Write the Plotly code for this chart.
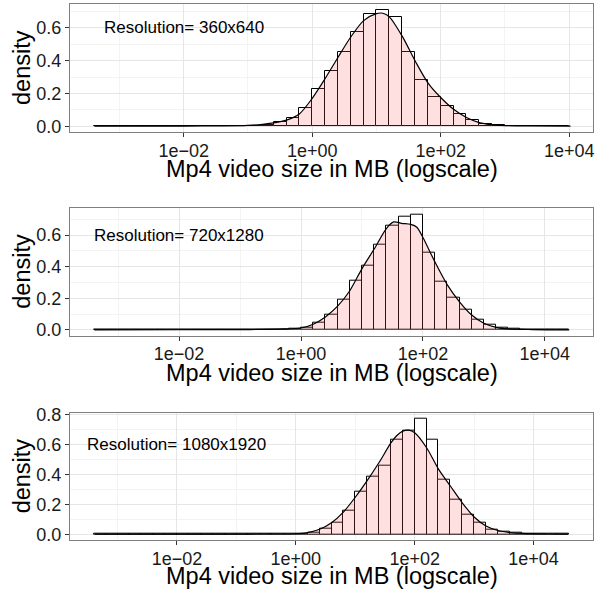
import plotly.graph_objects as go

# ---------------- data (log10 of MB on x) ----------------
bin_width = 0.2
bin_start = -3.4

labels = ["Resolution= 360x640", "Resolution= 720x1280", "Resolution= 1080x1920"]

hist_360 = [0.0005, 0.001, 0.001, 0.001, 0.001, 0.001, 0.001, 0.001, 0.001, 0.001,
            0.002, 0.002, 0.004, 0.010, 0.026, 0.053, 0.113,
            0.230, 0.340, 0.455, 0.574, 0.687, 0.711, 0.667, 0.453, 0.285, 0.178,
            0.123, 0.075, 0.038, 0.016, 0.007, 0.003, 0.002, 0.001, 0.001, 0.0005]
hist_720 = [0.0005, 0.001, 0.001, 0.001, 0.001, 0.001, 0.001, 0.001, 0.001, 0.001,
            0.001, 0.001, 0.001, 0.002, 0.002, 0.004, 0.008,
            0.015, 0.044, 0.096, 0.194, 0.3125, 0.406, 0.540, 0.6625, 0.719, 0.731,
            0.4875, 0.308, 0.204, 0.125, 0.067, 0.030, 0.012, 0.005, 0.002, 0.001,
            0.001, 0.0005]
hist_1080 = [0.0005, 0.001, 0.001, 0.001, 0.001, 0.001, 0.001, 0.001, 0.001, 0.001,
             0.001, 0.001, 0.001, 0.001, 0.001, 0.002, 0.002,
             0.004, 0.009, 0.038, 0.077, 0.159, 0.285, 0.382, 0.457, 0.634, 0.689,
             0.773, 0.634, 0.364, 0.230, 0.130, 0.074, 0.033, 0.015, 0.008, 0.003,
             0.001, 0.001, 0.0005]

dens_x_360 = [-3.39, -2.6, -2.0, -1.4, -1.0, -0.8, -0.6, -0.4, -0.2, 0.0, 0.2, 0.4, 0.6, 0.8,
              1.0, 1.1, 1.2, 1.4, 1.6, 1.8, 2.0, 2.2, 2.4, 2.6, 2.8, 3.0, 3.4, 4.02]
dens_y_360 = [0.0003, 0.0005, 0.001, 0.002, 0.005, 0.010, 0.020, 0.037, 0.075, 0.170, 0.290,
              0.420, 0.545, 0.645, 0.688, 0.690, 0.668, 0.550, 0.400, 0.265, 0.175, 0.103,
              0.053, 0.022, 0.009, 0.004, 0.0015, 0.0003]

dens_x_720 = [-3.39, -2.0, -1.0, -0.6, -0.3, 0.0, 0.2, 0.4, 0.6, 0.8, 1.0, 1.2, 1.4, 1.52,
              1.65, 1.8, 1.9, 2.0, 2.2, 2.4, 2.6, 2.8, 3.0, 3.2, 3.4, 3.8, 4.40]
dens_y_720 = [0.0003, 0.0008, 0.0015, 0.003, 0.006, 0.012, 0.036, 0.082, 0.150, 0.248, 0.388,
              0.512, 0.642, 0.684, 0.675, 0.668, 0.650, 0.585, 0.428, 0.285, 0.178, 0.094,
              0.042, 0.016, 0.006, 0.002, 0.0003]

dens_x_1080 = [-3.38, -2.0, -1.0, -0.5, 0.0, 0.2, 0.4, 0.6, 0.8, 1.0, 1.2, 1.4, 1.6, 1.7, 1.8,
               1.9, 2.0, 2.2, 2.4, 2.6, 2.8, 3.0, 3.2, 3.4, 3.6, 3.8, 4.2, 4.58]
dens_y_1080 = [0.0003, 0.0008, 0.001, 0.0015, 0.003, 0.011, 0.033, 0.077, 0.148, 0.247, 0.358,
               0.479, 0.610, 0.660, 0.689, 0.695, 0.678, 0.578, 0.435, 0.322, 0.210, 0.115,
               0.055, 0.025, 0.011, 0.005, 0.0015, 0.0003]

x_tick_vals = [-2, 0, 2, 4]
x_tick_text = ["1e\u221202", "1e+00", "1e+02", "1e+04"]
x_minor_vals = [-3, -1, 1, 3]

x_ranges = [[-3.77, 4.37], [-3.79, 4.79], [-3.80, 5.00]]
y_ranges = [[-0.0355, 0.7465], [-0.0369, 0.774], [-0.0387, 0.812]]

# ---------------- layout geometry (pixels) ----------------
W, H = 605, 590
panels_px = [(4, 132), (207.7, 335.7), (412.7, 540)]
x_left, x_right = 70, 593
xtitle_px = [169, 373, 576]

FONT = "Liberation Sans, Arial, Helvetica, sans-serif"

hists = [hist_360, hist_720, hist_1080]
dens = [(dens_x_360, dens_y_360), (dens_x_720, dens_y_720), (dens_x_1080, dens_y_1080)]

fig = go.Figure()
annotations = []
for k in range(3):
    xa = "x" if k == 0 else f"x{k+1}"
    ya = "y" if k == 0 else f"y{k+1}"
    h = hists[k]
    centers = [bin_start + bin_width * (i + 0.5) for i in range(len(h))]
    fig.add_trace(go.Bar(x=centers, y=h, width=bin_width, xaxis=xa, yaxis=ya,
                         marker=dict(color="white", line=dict(color="black", width=1)),
                         hoverinfo="skip"))
    dx, dy = dens[k]
    fig.add_trace(go.Scatter(x=dx, y=dy, mode="lines", xaxis=xa, yaxis=ya,
                             line=dict(color="black", width=1.2, shape="spline", smoothing=0.8),
                             fill="tozeroy", fillcolor="rgba(255,102,102,0.2)",
                             hoverinfo="skip"))
    top, bot = panels_px[k]
    xd = [x_left / W, x_right / W]
    yd = [1 - bot / H, 1 - top / H]
    common = dict(showline=True, mirror=True, linecolor="#7f7f7f", linewidth=1,
                  showgrid=True, gridcolor="#E6E6E6", gridwidth=1, zeroline=False,
                  ticks="outside", ticklen=4, tickwidth=1, tickcolor="#333333",
                  tickfont=dict(family=FONT, size=18, color="#1a1a1a"))
    xkey = "xaxis" if k == 0 else f"xaxis{k+1}"
    ykey = "yaxis" if k == 0 else f"yaxis{k+1}"
    fig.update_layout(**{
        xkey: dict(domain=xd, anchor=ya, range=x_ranges[k], tickmode="array",
                   tickvals=x_tick_vals, ticktext=x_tick_text, ticklabelstandoff=-2,
                   minor=dict(tickmode="array", tickvals=x_minor_vals, showgrid=True,
                              gridcolor="#F3F3F3", gridwidth=1, ticks=""),
                   **common),
        ykey: dict(domain=yd, anchor=xa, range=y_ranges[k], tick0=0, dtick=0.2,
                   tickformat=".1f",
                   minor=dict(tick0=0, dtick=0.1, showgrid=True, gridcolor="#F3F3F3",
                              gridwidth=1, ticks=""),
                   **common),
    })
    annotations.append(dict(x=-2, y=0.6, xref=xa, yref=ya, text=labels[k], showarrow=False,
                            xanchor="center", yanchor="middle",
                            font=dict(family=FONT, size=17, color="black")))
    annotations.append(dict(x=(x_left + x_right) / 2 / W, y=1 - xtitle_px[k] / H, xref="paper",
                            yref="paper", text="Mp4 video size in MB (logscale)",
                            showarrow=False, xanchor="center", yanchor="middle",
                            font=dict(family=FONT, size=23.5, color="black")))
    annotations.append(dict(x=22 / W, y=1 - (top + bot) / 2 / H, xref="paper", yref="paper",
                            text="density", textangle=-90, showarrow=False,
                            xanchor="center", yanchor="middle",
                            font=dict(family=FONT, size=23.5, color="black")))

fig.update_layout(width=W, height=H, margin=dict(l=0, r=0, t=0, b=0, autoexpand=False),
                  paper_bgcolor="white", plot_bgcolor="white", showlegend=False,
                  barmode="overlay", bargap=0, annotations=annotations)

fig.write_html("out.html", config={"displayModeBar": False})

# remove the browser's default body margin so the figure sits at the page origin
with open("out.html", "r", encoding="utf-8") as f:
    html = f.read()
html = html.replace("<body>", '<body style="margin:0;padding:0;">', 1)
with open("out.html", "w", encoding="utf-8") as f:
    f.write(html)
